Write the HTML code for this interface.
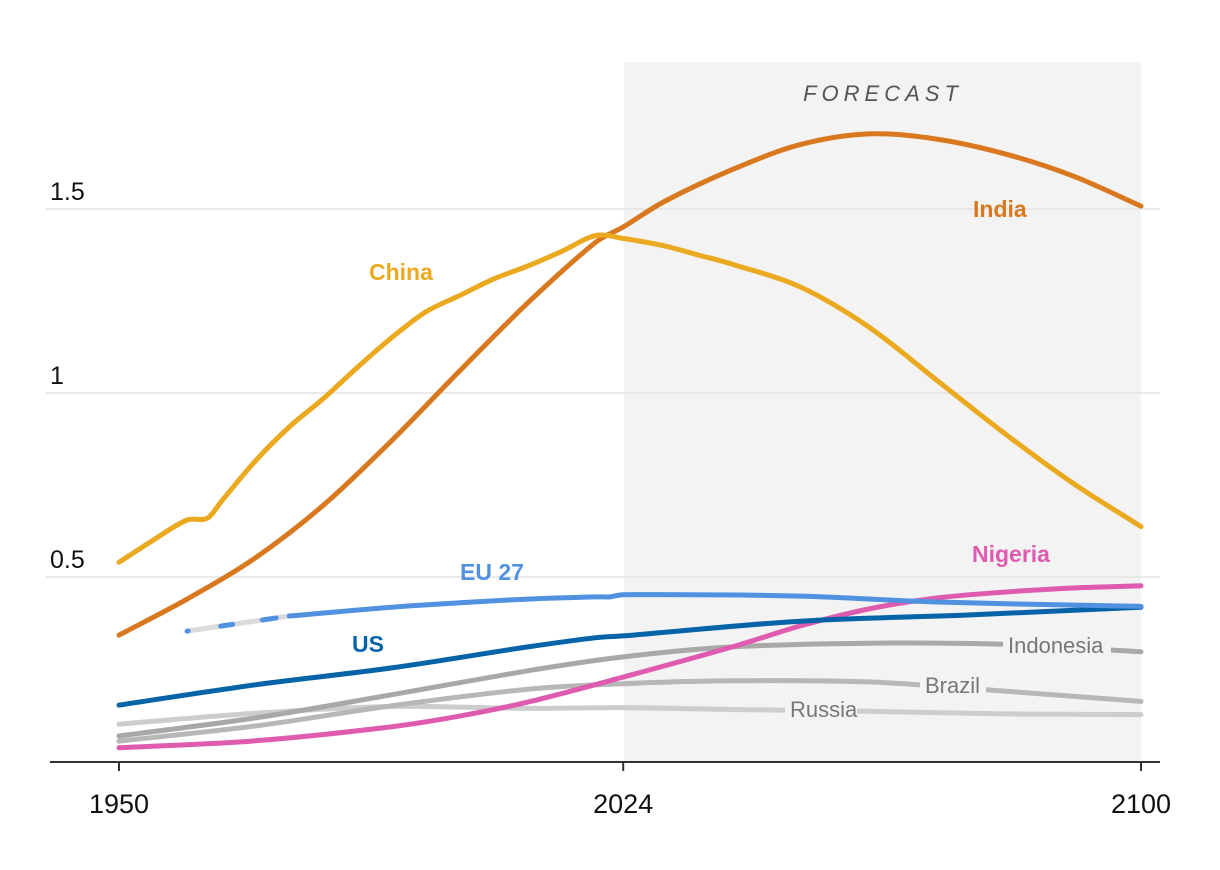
<!DOCTYPE html>
<html><head><meta charset="utf-8">
<style>
html,body{margin:0;padding:0;background:#fff;}
svg{display:block;}
.tick{font-family:"Liberation Sans Narrow","Liberation Sans",sans-serif;fill:#111;}
.lab{font-family:"Liberation Sans",sans-serif;font-weight:bold;font-size:23px;}
.glab{font-family:"Liberation Sans Narrow","Liberation Sans",sans-serif;font-size:22px;fill:#777;}
</style></head>
<body>
<svg id="chart" width="1220" height="870" viewBox="0 0 1220 870">
  <rect x="624" y="62" width="517" height="699" fill="#f3f3f3"/>
  <text x="883" y="101" text-anchor="middle" font-family="Liberation Sans,sans-serif" font-style="italic" font-size="22" letter-spacing="5" fill="#555">FORECAST</text>
  <g id="grid"></g>
  <g id="lines"></g>
  <g id="labels"></g>
</svg>
<script>
const yTicks=[0.5,1,1.5];
const yTickLabels=["0.5","1","1.5"];
const xTicks=[1950,2024,2100];

const russiaYears=[1950,1970,1990,2010,2024,2040,2060,2080,2100];
const russiaVals=[0.100,0.130,0.148,0.143,0.145,0.140,0.135,0.128,0.126];
const brazilYears=[1950,1970,1990,2010,2024,2040,2060,2080,2100];
const brazilVals=[0.054,0.095,0.150,0.195,0.210,0.218,0.215,0.190,0.162];
const indonesiaYears=[1950,1970,1990,2010,2024,2040,2060,2080,2100];
const indonesiaVals=[0.068,0.117,0.180,0.245,0.283,0.310,0.320,0.317,0.297];
const nigeriaYears=[1950,1970,1990,2000,2010,2024,2040,2050,2060,2070,2080,2090,2100];
const nigeriaVals=[0.036,0.055,0.093,0.122,0.160,0.228,0.310,0.367,0.413,0.443,0.459,0.470,0.476];
const usYears=[1950,1970,1990,2010,2020,2024,2050,2075,2100];
const usVals=[0.152,0.207,0.253,0.310,0.335,0.340,0.380,0.397,0.418];
const euYears=[1960,1975,1990,2000,2010,2020,2022,2024,2050,2070,2100];
const euVals=[0.353,0.394,0.418,0.430,0.440,0.446,0.446,0.452,0.448,0.432,0.420];
const indiaYears=[1950,1960,1970,1980,1990,2000,2010,2020,2024,2030,2040,2050,2060,2070,2080,2090,2100];
const indiaVals=[0.342,0.440,0.552,0.695,0.870,1.060,1.245,1.410,1.451,1.520,1.607,1.675,1.704,1.690,1.650,1.590,1.508];
const chinaYears=[1950,1955,1960,1963,1965,1970,1975,1980,1985,1990,1995,2000,2005,2010,2015,2020,2024,2030,2035,2040,2050,2060,2070,2080,2090,2100];
const chinaVals=[0.540,0.600,0.655,0.660,0.705,0.815,0.908,0.985,1.070,1.150,1.220,1.265,1.310,1.345,1.385,1.428,1.420,1.400,1.375,1.350,1.288,1.180,1.035,0.890,0.755,0.637];

const X=y=>119+(y-1950)*(1141-119)/150;
const Y=v=>761-v*368;
const NS="http://www.w3.org/2000/svg";
function mk(tag,attrs,parent){const e=document.createElementNS(NS,tag);for(const k in attrs)e.setAttribute(k,attrs[k]);parent.appendChild(e);return e;}
function pathD(xs,vs){
  const p=xs.map((x,i)=>[X(x),Y(vs[i])]);
  const n=p.length;
  const m=p.map((pt,i)=>{
    if(n<2)return 0;
    if(i===0)return (p[1][1]-p[0][1])/(p[1][0]-p[0][0]);
    if(i===n-1)return (p[n-1][1]-p[n-2][1])/(p[n-1][0]-p[n-2][0]);
    return (p[i+1][1]-p[i-1][1])/(p[i+1][0]-p[i-1][0]);
  });
  let d="M"+p[0][0].toFixed(1)+","+p[0][1].toFixed(1);
  for(let i=0;i<n-1;i++){
    const h=(p[i+1][0]-p[i][0])/3;
    d+=" C"+(p[i][0]+h).toFixed(1)+","+(p[i][1]+m[i]*h).toFixed(1)+" "+(p[i+1][0]-h).toFixed(1)+","+(p[i+1][1]-m[i+1]*h).toFixed(1)+" "+p[i+1][0].toFixed(1)+","+p[i+1][1].toFixed(1);
  }
  return d;
}
const grid=document.getElementById('grid'),lines=document.getElementById('lines'),labels=document.getElementById('labels');
yTicks.forEach((t,i)=>{
  const l=mk('line',{x1:45,x2:1160,y1:Y(t),y2:Y(t),stroke:'#e3e3e3','stroke-width':1.5},grid);
  
  
  const tx=mk('text',{x:50,y:Y(t)-9,class:'tick','font-size':25},grid);
  tx.textContent=yTickLabels[i];
  
  
});
const ax=mk('line',{x1:50,x2:1160,y1:762,y2:762,stroke:'#333','stroke-width':2},grid);


xTicks.forEach(t=>{
  const tk=mk('line',{x1:X(t),x2:X(t),y1:762,y2:771,stroke:'#333','stroke-width':2},grid);
  
  
  const tx=mk('text',{x:X(t),y:813,class:'tick','font-size':27,'text-anchor':'middle'},grid);
  tx.textContent=String(t);
  
  
});
function series(name,xs,vs,color){
  const p=mk('path',{d:pathD(xs,vs),fill:'none',stroke:color,'stroke-width':5,'stroke-linecap':'round','stroke-linejoin':'round'},lines);
  
  
  return p;
}
series('russia',russiaYears,russiaVals,'#cdcdcd');
series('brazil',brazilYears,brazilVals,'#b7b7b7');
series('indonesia',indonesiaYears,indonesiaVals,'#a8a8a8');
series('nigeria',nigeriaYears,nigeriaVals,'#de5bb0');
series('us',usYears,usVals,'#0563a8');
series('eu27-early',euYears.slice(0,2),euVals.slice(0,2),'#dadada');
const euDash=series('eu27-early-dashes',euYears.slice(0,2),euVals.slice(0,2),'#5092e0');
euDash.setAttribute('stroke-dasharray','1 33 12 30 14 300');
series('eu27',euYears.slice(1),euVals.slice(1),'#5092e0');
series('india',indiaYears,indiaVals,'#d9781e');
series('china',chinaYears,chinaVals,'#eba91f');

function lab(txt,x,y,color,name){
  const t=mk('text',{x:x,y:y,class:'lab',fill:color},labels);
  t.textContent=txt;
  
  
}
lab('China',369,280,'#eba91f','china-label');
lab('India',973,217,'#d9781e','india-label');
lab('Nigeria',972,562,'#de5bb0','nigeria-label');
lab('EU 27',460,580,'#5092e0','eu27-label');
lab('US',352,652,'#0563a8','us-label');
function glab(txt,x,y,w,name){
  const r=mk('rect',{x:x-5,y:y-19,width:w,height:26,fill:'#f3f3f3'},labels);
  
  
  const t=mk('text',{x:x,y:y,class:'glab'},labels);
  t.textContent=txt;
  
  
}
glab('Indonesia',1008,653,108,'indonesia-label');
glab('Brazil',925,693,66,'brazil-label');
glab('Russia',790,717,72,'russia-label');
</script>
</body></html>
